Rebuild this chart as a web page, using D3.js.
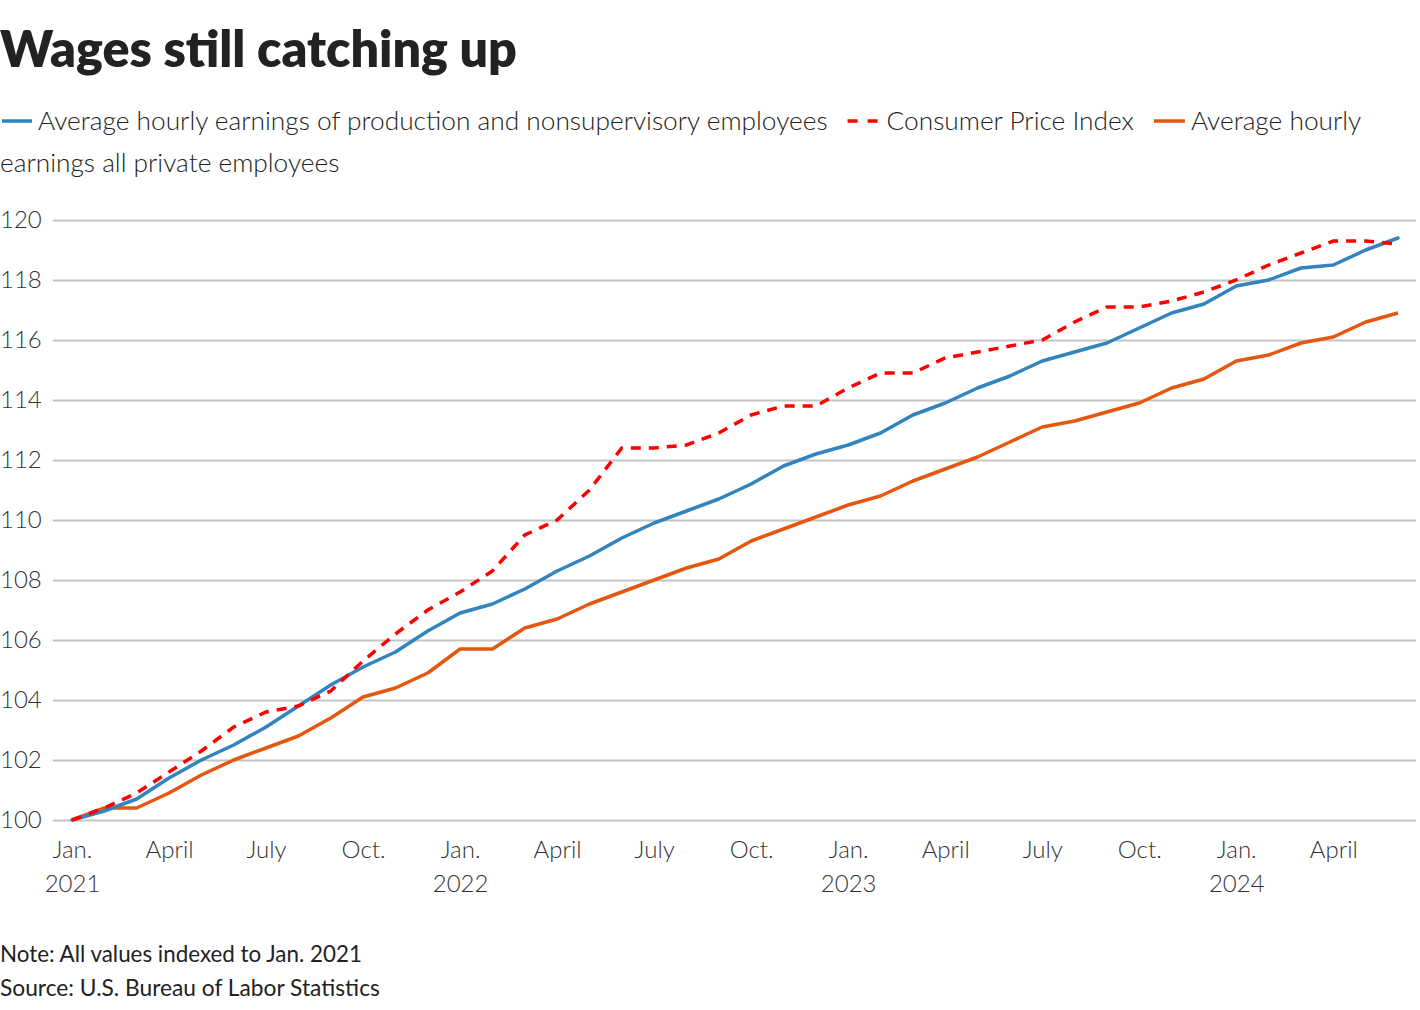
<!DOCTYPE html>
<html>
<head>
<meta charset="utf-8">
<script src="https://cdn.jsdelivr.net/npm/d3@7"></script>
<style>
  html, body { margin: 0; padding: 0; background: #fff; }
  svg { display: block; }
  text { font-family: "Lato", "Noto Sans", sans-serif; fill: #222; }
</style>
</head>
<body>
<svg id="chart" width="1420" height="1010"></svg>
<script>
// ---- DATA ----
const startYear = 2021;
const monthsCount = 42; // Jan 2021 .. Jun 2024
const production = [100.0,100.3,100.7,101.4,102.0,102.5,103.1,103.8,104.5,105.1,105.6,106.3,
  106.9,107.2,107.7,108.3,108.8,109.4,109.9,110.3,110.7,111.2,111.8,112.2,
  112.5,112.9,113.5,113.9,114.4,114.8,115.3,115.6,115.9,116.4,116.9,117.2,
  117.8,118.0,118.4,118.5,119.0,119.4];
const cpi = [100.0,100.4,100.9,101.6,102.3,103.1,103.6,103.8,104.3,105.3,106.2,107.0,
  107.6,108.3,109.5,110.0,111.0,112.4,112.4,112.5,112.9,113.5,113.8,113.8,
  114.4,114.9,114.9,115.4,115.6,115.8,116.0,116.6,117.1,117.1,117.3,117.6,
  118.0,118.5,118.9,119.3,119.3,119.2];
const allPrivate = [100.0,100.4,100.4,100.9,101.5,102.0,102.4,102.8,103.4,104.1,104.4,104.9,
  105.7,105.7,106.4,106.7,107.2,107.6,108.0,108.4,108.7,109.3,109.7,110.1,
  110.5,110.8,111.3,111.7,112.1,112.6,113.1,113.3,113.6,113.9,114.4,114.7,
  115.3,115.5,115.9,116.1,116.6,116.9];
const yTicks = [100,102,104,106,108,110,112,114,116,118,120];
const monthNames = {0:"Jan.", 3:"April", 6:"July", 9:"Oct."};
const seriesNames = [
  "Average hourly earnings of production and nonsupervisory employees",
  "Consumer Price Index",
  "Average hourly earnings all private employees"
];
const titleText = "Wages still catching up";
const noteText = "Note: All values indexed to Jan. 2021";
const sourceText = "Source: U.S. Bureau of Labor Statistics";

// ---- STYLE ----
const colors = { production: "#3284be", cpi: "#ff0000", allPrivate: "#e5560f" };
const svg = d3.select("#chart");

function fitSize(sel, target, base) {
  sel.style("font-size", base + "px");
  const w = sel.node().getComputedTextLength();
  const s = base * target / w;
  sel.style("font-size", s + "px");
  return s;
}

// Title
const title = svg.append("text").attr("x", 0).attr("y", 67)
  .style("font-weight", 800).text(titleText);
fitSize(title, 517, 46);

// Legend
const legendFont = (() => {
  const t = svg.append("text").style("font-weight", 300).text(seriesNames[0]);
  const s = fitSize(t, 790, 26);
  t.remove();
  return s;
})();
const lg = svg.append("g");
const ly = 121, lbase = 130;
function legendText(x, y, str) {
  return lg.append("text").attr("x", x).attr("y", y)
    .style("font-weight", 300).style("font-size", legendFont + "px").text(str);
}
lg.append("line").attr("x1", 2).attr("x2", 32).attr("y1", ly).attr("y2", ly)
  .attr("stroke", colors.production).attr("stroke-width", 3.5);
const t1 = legendText(38, lbase, seriesNames[0]);
let cx = 38 + t1.node().getComputedTextLength() + 20;
lg.append("line").attr("x1", cx).attr("x2", cx + 30).attr("y1", ly).attr("y2", ly)
  .attr("stroke", colors.cpi).attr("stroke-width", 3.5).attr("stroke-dasharray", "10,10");
const t2 = legendText(cx + 39, lbase, seriesNames[1]);
cx = cx + 39 + t2.node().getComputedTextLength() + 20;
lg.append("line").attr("x1", cx).attr("x2", cx + 31).attr("y1", ly).attr("y2", ly)
  .attr("stroke", colors.allPrivate).attr("stroke-width", 3.5);
legendText(cx + 37, lbase, "Average hourly");
legendText(0, 172, "earnings all private employees");

// Scales
const x = d3.scaleLinear().domain([0, monthsCount - 1]).range([72, 1398]);
const y = d3.scaleLinear().domain([100, 120]).range([820, 220]);

// Grid
const grid = svg.append("g")
  .call(d3.axisLeft(y).tickValues(yTicks).tickSize(-(1416 - 53)).tickFormat(""))
  .attr("transform", "translate(53,0)");
grid.select(".domain").remove();
grid.selectAll("line").attr("stroke", "#c4c4c4").attr("stroke-width", 2);

// Y labels
svg.append("g").selectAll("text").data(yTicks).join("text")
  .attr("x", 0).attr("y", d => y(d)).attr("dy", "0.35em")
  .style("font-weight", 300).style("font-size", "24px").style("fill", "#333")
  .text(d => d);

// X axis labels
const xTickVals = d3.range(0, monthsCount, 3);
const xa = svg.append("g").attr("transform", "translate(0,820)")
  .call(d3.axisBottom(x).tickValues(xTickVals).tickSize(0).tickPadding(0).tickFormat(""));
xa.select(".domain").remove();
xa.selectAll(".tick").each(function(d) {
  const g = d3.select(this);
  const m = d % 12;
  g.append("text").attr("y", 38).attr("text-anchor", "middle")
    .style("font-weight", 300).style("font-size", "24px").style("fill", "#333")
    .text(monthNames[m]);
  if (m === 0) {
    g.append("text").attr("y", 72).attr("text-anchor", "middle")
      .style("font-weight", 300).style("font-size", "24px").style("fill", "#333")
      .text(startYear + d / 12);
  }
});

// Lines
const line = d3.line().x((d, i) => x(i)).y(d => y(d));
svg.append("path").datum(allPrivate).attr("d", line).attr("fill", "none")
  .attr("stroke", colors.allPrivate).attr("stroke-width", 3.5).attr("stroke-linejoin", "round");
svg.append("path").datum(production).attr("d", line).attr("fill", "none")
  .attr("stroke", colors.production).attr("stroke-width", 3.5).attr("stroke-linejoin", "round")
  .attr("stroke-linecap", "round");
svg.append("path").datum(cpi).attr("d", line).attr("fill", "none")
  .attr("stroke", colors.cpi).attr("stroke-width", 3.5).attr("stroke-dasharray", "10,8");

// Footer
const note = svg.append("text").attr("x", 0).attr("y", 962).style("font-weight", 400).text(noteText);
fitSize(note, 362, 22);
const src = svg.append("text").attr("x", 0).attr("y", 996).style("font-weight", 400).text(sourceText);
fitSize(src, 380, 22);
</script>
</body>
</html>
